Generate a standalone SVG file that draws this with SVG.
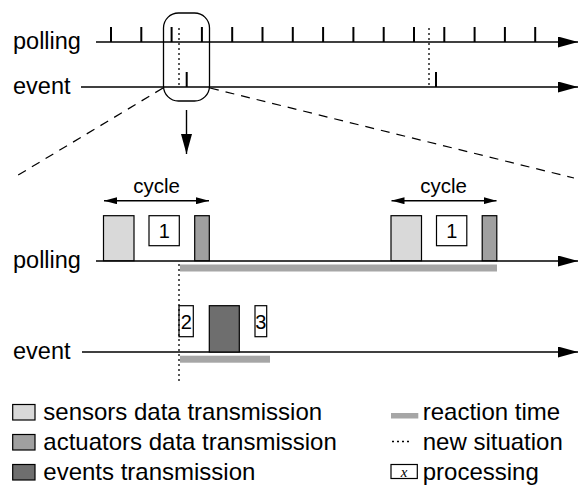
<svg xmlns="http://www.w3.org/2000/svg" width="578" height="487" viewBox="0 0 578 487">
<style>
text{font-family:"Liberation Sans",Arial,sans-serif;fill:#000}
.lbl{font-size:23.5px}
.leg{font-size:24px}
.cyc{font-size:20.5px}
.num{font-size:20px}
.axis{stroke:#000;stroke-width:1.4;fill:none}
.tick{stroke:#000;stroke-width:2}
.dot{stroke:#000;stroke-width:1.3;stroke-dasharray:2,3;fill:none}
.dash{stroke:#000;stroke-width:1.2;stroke-dasharray:9,7;fill:none}
.box{stroke:#000;stroke-width:1.2}
.sens{fill:#d9d9d9}
.act{fill:#a0a0a0}
.evt{fill:#6e6e6e}
.proc{fill:#fff}
.react{fill:#a6a6a6}
</style>
<defs>
<marker id="big" markerUnits="userSpaceOnUse" markerWidth="20" markerHeight="11" refX="20" refY="5.5" orient="auto">
<path d="M0,0 L20,5.5 L0,11 z" fill="#000"/>
</marker>
<marker id="small" markerUnits="userSpaceOnUse" markerWidth="13" markerHeight="7" refX="13" refY="3.5" orient="auto-start-reverse">
<path d="M0,0 L13,3.5 L0,7 z" fill="#000"/>
</marker>
</defs>

<g id="overview">
<text class="lbl" x="13" y="49">polling</text>
<text class="lbl" x="13" y="94">event</text>
<line class="axis" x1="96" y1="42" x2="578" y2="42" marker-end="url(#big)"/>
<line class="axis" x1="81" y1="87" x2="578" y2="87" marker-end="url(#big)"/>
<g class="tick">
<line x1="111" y1="27" x2="111" y2="42"/>
<line x1="141.3" y1="27" x2="141.3" y2="42"/>
<line x1="171.6" y1="27" x2="171.6" y2="42"/>
<line x1="201.9" y1="27" x2="201.9" y2="42"/>
<line x1="232.2" y1="27" x2="232.2" y2="42"/>
<line x1="262.5" y1="27" x2="262.5" y2="42"/>
<line x1="292.8" y1="27" x2="292.8" y2="42"/>
<line x1="323.1" y1="27" x2="323.1" y2="42"/>
<line x1="353.4" y1="27" x2="353.4" y2="42"/>
<line x1="383.7" y1="27" x2="383.7" y2="42"/>
<line x1="414" y1="27" x2="414" y2="42"/>
<line x1="444.3" y1="27" x2="444.3" y2="42"/>
<line x1="474.6" y1="27" x2="474.6" y2="42"/>
<line x1="504.9" y1="27" x2="504.9" y2="42"/>
<line x1="535.2" y1="27" x2="535.2" y2="42"/>
<line x1="186.7" y1="72" x2="186.7" y2="87"/>
<line x1="436" y1="72" x2="436" y2="87"/>
</g>
<line class="dot" x1="179" y1="28" x2="179" y2="87"/>
<line class="dot" x1="429" y1="28" x2="429" y2="87"/>
<rect x="163.5" y="13" width="46" height="88" rx="15" ry="15" fill="none" stroke="#000" stroke-width="1.3"/>
</g>

<g id="zoom-connectors">
<line class="dash" x1="163" y1="88" x2="15" y2="177"/>
<line class="dash" x1="210" y1="88" x2="574" y2="178"/>
<line class="axis" x1="186.5" y1="110" x2="186.5" y2="154" marker-end="url(#big)"/>
</g>

<g id="polling-detail">
<text class="lbl" x="13" y="268">polling</text>
<rect class="react" x="180" y="264.5" width="317" height="7"/>
<line class="axis" x1="96" y1="261" x2="578" y2="261" marker-end="url(#big)"/>
<g id="cycle1">
<text class="cyc" x="156.5" y="193" text-anchor="middle">cycle</text>
<line class="axis" x1="104" y1="200.7" x2="209" y2="200.7" stroke-width="1.3" marker-start="url(#small)" marker-end="url(#small)"/>
<rect class="box sens" x="103.5" y="215.7" width="30.5" height="45"/>
<rect class="box proc" x="149" y="215.7" width="30.3" height="30"/>
<text class="num" x="164.2" y="238.3" text-anchor="middle">1</text>
<rect class="box act" x="194.7" y="215.7" width="14.6" height="45"/>
</g>
<g id="cycle2">
<text class="cyc" x="443.5" y="193" text-anchor="middle">cycle</text>
<line class="axis" x1="391.5" y1="200.7" x2="496.5" y2="200.7" stroke-width="1.3" marker-start="url(#small)" marker-end="url(#small)"/>
<rect class="box sens" x="391" y="215.7" width="30.5" height="45"/>
<rect class="box proc" x="436.5" y="215.7" width="30.3" height="30"/>
<text class="num" x="451.7" y="238.3" text-anchor="middle">1</text>
<rect class="box act" x="482.2" y="215.7" width="14.6" height="45"/>
</g>
</g>

<g id="event-detail">
<text class="lbl" x="13" y="359">event</text>
<rect class="react" x="180" y="355.7" width="90" height="7"/>
<line class="axis" x1="82" y1="352" x2="578" y2="352" marker-end="url(#big)"/>
<rect class="box proc" x="179" y="305.7" width="14.3" height="31"/>
<text class="num" x="186.2" y="329.3" text-anchor="middle">2</text>
<rect class="box evt" x="209.3" y="305.7" width="30" height="46.3"/>
<rect class="box proc" x="255" y="305.7" width="11.7" height="31"/>
<text class="num" x="260.9" y="329.3" text-anchor="middle">3</text>
</g>

<line class="dot" x1="179" y1="264" x2="179" y2="381"/>

<g id="legend">
<rect class="box sens" x="12.7" y="404.5" width="22.3" height="15.5"/>
<text class="leg" x="43.3" y="420">sensors data transmission</text>
<rect class="box act" x="12.7" y="434.5" width="22.3" height="15.5"/>
<text class="leg" x="43.3" y="450">actuators data transmission</text>
<rect class="box evt" x="12.7" y="464.5" width="22.3" height="15.5"/>
<text class="leg" x="43.3" y="480">events transmission</text>
<rect class="react" x="391" y="413" width="27.3" height="5.5"/>
<text class="leg" x="422.7" y="420">reaction time</text>
<line class="dot" x1="392" y1="441.5" x2="412" y2="441.5"/>
<text class="leg" x="422.7" y="450">new situation</text>
<rect class="box proc" x="391" y="464.5" width="26.3" height="14"/>
<text x="404.2" y="476.5" text-anchor="middle" style="font-family:'Liberation Serif','Times New Roman',serif;font-style:italic;font-size:15px">x</text>
<text class="leg" x="422.7" y="480">processing</text>
</g>
</svg>
